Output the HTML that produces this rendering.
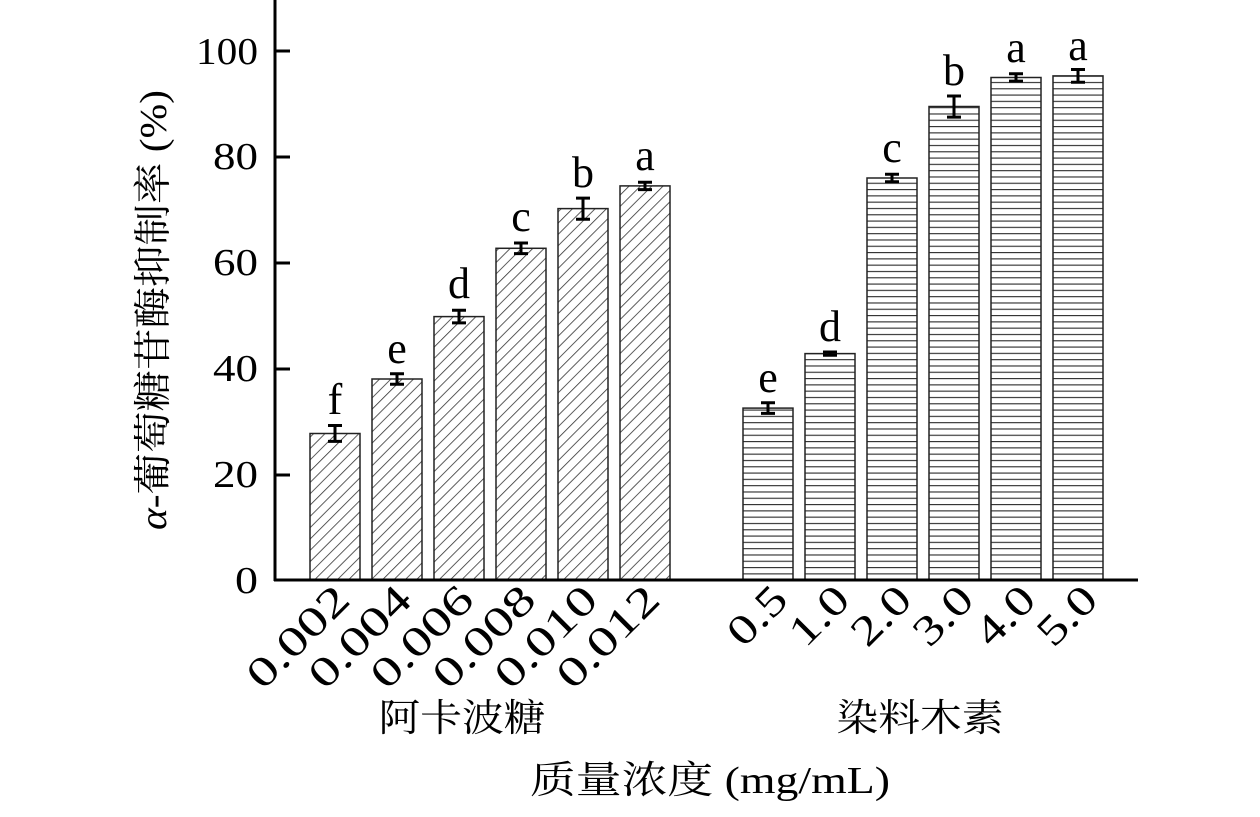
<!DOCTYPE html>
<html><head><meta charset="utf-8"><style>body{margin:0;background:#fff}</style></head><body>
<svg width="1260" height="812" xmlns="http://www.w3.org/2000/svg" font-family="'Liberation Serif','Noto Serif CJK SC',serif">
<defs>
<pattern id="d" patternUnits="userSpaceOnUse" width="8" height="8" patternTransform="rotate(45)"><rect width="8" height="8" fill="#fff"/><line x1="0" y1="0" x2="0" y2="8" stroke="#333" stroke-width="1.6"/></pattern>
<pattern id="h" patternUnits="userSpaceOnUse" width="8" height="6.3"><rect width="8" height="6.3" fill="#fff"/><line x1="0" y1="0.5" x2="8" y2="0.5" stroke="#333" stroke-width="1.3"/></pattern>
</defs>
<g stroke="#222" stroke-width="1.5">
<rect x="310" y="433.5" width="50" height="146.5" fill="url(#d)"/>
<rect x="372" y="379" width="50" height="201" fill="url(#d)"/>
<rect x="434" y="316.6" width="50" height="263.4" fill="url(#d)"/>
<rect x="496" y="248.3" width="50" height="331.7" fill="url(#d)"/>
<rect x="558" y="208.6" width="50" height="371.4" fill="url(#d)"/>
<rect x="620" y="185.9" width="50" height="394.1" fill="url(#d)"/>
<rect x="743" y="408.1" width="50" height="171.9" fill="url(#h)"/>
<rect x="805" y="353.6" width="50" height="226.4" fill="url(#h)"/>
<rect x="867" y="178" width="50" height="402" fill="url(#h)"/>
<rect x="929" y="106.5" width="50" height="473.5" fill="url(#h)"/>
<rect x="991" y="77.5" width="50" height="502.5" fill="url(#h)"/>
<rect x="1053" y="75.9" width="50" height="504.1" fill="url(#h)"/>
</g>
<g stroke="#000" stroke-width="3">
<path d="M335 425.5V441.4M328 425.5H342M328 441.4H342"/>
<path d="M397 373.7V384.3M390 373.7H404M390 384.3H404"/>
<path d="M459 310.2V322.9M452 310.2H466M452 322.9H466"/>
<path d="M521 243V253.6M514 243H528M514 253.6H528"/>
<path d="M583 198.1V219.2M576 198.1H590M576 219.2H590"/>
<path d="M645 182.2V189.6M638 182.2H652M638 189.6H652"/>
<path d="M768 402.8V413.4M761 402.8H775M761 413.4H775"/>
<path d="M830 352V355.2M823 352H837M823 355.2H837"/>
<path d="M892 174.3V181.7M885 174.3H899M885 181.7H899"/>
<path d="M954 96V117.1M947 96H961M947 117.1H961"/>
<path d="M1016 73.8V81.1M1009 73.8H1023M1009 81.1H1023"/>
<path d="M1078 69.5V82.2M1071 69.5H1085M1071 82.2H1085"/>
</g>
<g font-size="44" text-anchor="middle">
<text x="335" y="414">f</text><text x="397" y="363">e</text><text x="459" y="298">d</text><text x="521" y="231">c</text><text x="583" y="187">b</text><text x="645" y="170">a</text>
<text x="768" y="392">e</text><text x="830" y="341">d</text><text x="892" y="162">c</text><text x="954" y="85">b</text><text x="1016" y="62">a</text><text x="1078" y="60">a</text>
</g>
<line x1="275" y1="0" x2="275" y2="581" stroke="#000" stroke-width="3"/>
<line x1="274" y1="580" x2="1138" y2="580" stroke="#000" stroke-width="3"/>
<g font-size="38" text-anchor="end">
<text x="258" y="593" textLength="23" lengthAdjust="spacingAndGlyphs">0</text><text x="258" y="487" textLength="45" lengthAdjust="spacingAndGlyphs">20</text><text x="258" y="381" textLength="45" lengthAdjust="spacingAndGlyphs">40</text><text x="258" y="275" textLength="45" lengthAdjust="spacingAndGlyphs">60</text><text x="258" y="169" textLength="45" lengthAdjust="spacingAndGlyphs">80</text><text x="258" y="64" textLength="62" lengthAdjust="spacingAndGlyphs">100</text>
</g>
<g stroke="#000" stroke-width="3">
<line x1="275" y1="475" x2="290" y2="475"/><line x1="275" y1="369" x2="290" y2="369"/><line x1="275" y1="263" x2="290" y2="263"/><line x1="275" y1="157" x2="290" y2="157"/><line x1="275" y1="51" x2="290" y2="51"/>
</g>
<text transform="translate(166,310) rotate(-90)" font-size="38" text-anchor="middle" textLength="440" lengthAdjust="spacingAndGlyphs"><tspan font-style="italic">α</tspan>-葡萄糖苷酶抑制率 (%)</text>
<g font-size="42" text-anchor="end">
<text transform="translate(352,602) rotate(-45)" textLength="126" lengthAdjust="spacingAndGlyphs">0.002</text>
<text transform="translate(414,602) rotate(-45)" textLength="126" lengthAdjust="spacingAndGlyphs">0.004</text>
<text transform="translate(476,602) rotate(-45)" textLength="126" lengthAdjust="spacingAndGlyphs">0.006</text>
<text transform="translate(538,602) rotate(-45)" textLength="126" lengthAdjust="spacingAndGlyphs">0.008</text>
<text transform="translate(600,602) rotate(-45)" textLength="126" lengthAdjust="spacingAndGlyphs">0.010</text>
<text transform="translate(662,602) rotate(-45)" textLength="126" lengthAdjust="spacingAndGlyphs">0.012</text>
<text transform="translate(790,602) rotate(-45)" textLength="66" lengthAdjust="spacingAndGlyphs">0.5</text>
<text transform="translate(852,602) rotate(-45)" textLength="66" lengthAdjust="spacingAndGlyphs">1.0</text>
<text transform="translate(914,602) rotate(-45)" textLength="66" lengthAdjust="spacingAndGlyphs">2.0</text>
<text transform="translate(976,602) rotate(-45)" textLength="66" lengthAdjust="spacingAndGlyphs">3.0</text>
<text transform="translate(1038,602) rotate(-45)" textLength="66" lengthAdjust="spacingAndGlyphs">4.0</text>
<text transform="translate(1100,602) rotate(-45)" textLength="66" lengthAdjust="spacingAndGlyphs">5.0</text>
</g>
<text x="462" y="731" font-size="38" text-anchor="middle" textLength="167" lengthAdjust="spacingAndGlyphs">阿卡波糖</text>
<text x="920" y="731" font-size="38" text-anchor="middle" textLength="167" lengthAdjust="spacingAndGlyphs">染料木素</text>
<text x="710" y="793" font-size="38" text-anchor="middle" textLength="360" lengthAdjust="spacingAndGlyphs">质量浓度 (mg/mL)</text>
</svg>
</body></html>
